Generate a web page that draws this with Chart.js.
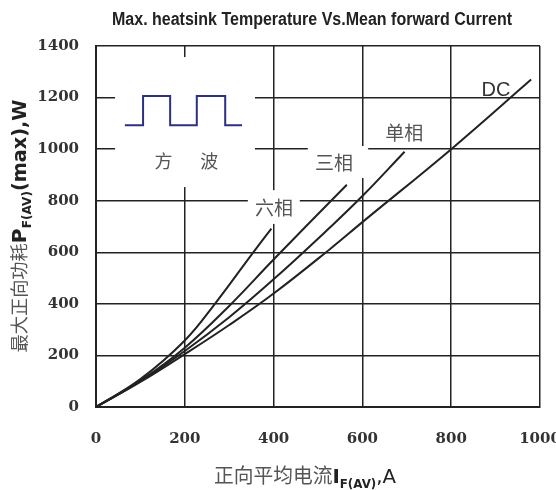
<!DOCTYPE html>
<html>
<head>
<meta charset="utf-8">
<script src="https://cdn.jsdelivr.net/npm/chart.js@4.4.0/dist/chart.umd.min.js"></script>
<style>
  html, body { margin: 0; padding: 0; background: #fff; }
</style>
</head>
<body>
<canvas id="chart" width="556" height="490"></canvas>
<script>
// values (current A, power W)
const xTicks = [0, 200, 400, 600, 800, 1000];
const yTicks = [0, 200, 400, 600, 800, 1000, 1200, 1400];

const sixPhaseI = [0, 100, 200, 270, 350, 395];
const sixPhaseP = [0, 108, 258, 405, 590, 692];

const threePhaseI = [0, 100, 200, 300, 400, 565];
const threePhaseP = [0, 102, 230, 392, 572, 862];

const singlePhaseI = [0, 100, 200, 300, 400, 528, 600, 695];
const singlePhaseP = [0, 100, 217, 348, 495, 698, 818, 990];

const dcI = [0, 100, 200, 300, 400, 528, 600, 800, 980];
const dcP = [0, 97, 205, 318, 440, 614, 717, 1000, 1270];

const seriesNames = ["六相", "三相", "单相", "DC"];

function toPoints(xs, ys) {
    return xs.map((x, i) => ({ x: x, y: ys[i] }));
}

const ink = "#222";

function curve(label, xs, ys) {
    return {
        label: label,
        data: toPoints(xs, ys),
        borderColor: ink,
        borderWidth: 2,
        pointRadius: 0,
        tension: 0.4,
        fill: false
    };
}

// draw a row of text pieces, stretched to a given length
function drawRun(ctx, parts, cx, cy, len, angle) {
    ctx.save();
    let total = 0;
    parts.forEach(p => {
        ctx.font = p.font;
        p.w = ctx.measureText(p.text).width;
        total += p.w;
    });
    ctx.translate(cx, cy);
    ctx.rotate(angle);
    ctx.scale(len / total, 1);
    ctx.textBaseline = "alphabetic";
    ctx.textAlign = "left";
    let x = -total / 2;
    parts.forEach(p => {
        ctx.font = p.font;
        ctx.fillStyle = p.color;
        ctx.fillText(p.text, x, p.dy);
        x += p.w;
    });
    ctx.restore();
}

const cjk = '"Noto Sans CJK SC"';

const decor = {
    id: "decor",
    beforeDatasetsDraw(chart) {
        const ctx = chart.ctx;
        const sx = chart.scales.x, sy = chart.scales.y;
        // white patches behind the labels, they cut the grid
        const boxes = [[43, 358, 853, 1357], [342, 459, 710, 841], [477, 613, 888, 1012]];
        ctx.save();
        ctx.fillStyle = "#fff";
        boxes.forEach(b => {
            const l = sx.getPixelForValue(b[0]), r = sx.getPixelForValue(b[1]);
            const t = sy.getPixelForValue(b[3]), btm = sy.getPixelForValue(b[2]);
            ctx.fillRect(l, t, r - l, btm - t);
        });
        ctx.restore();
    },
    afterDatasetsDraw(chart) {
        const ctx = chart.ctx;
        const sx = chart.scales.x, sy = chart.scales.y;
        const px = v => sx.getPixelForValue(v);
        const py = v => sy.getPixelForValue(v);

        // square wave icon
        const waveX = [65, 106, 106, 167, 167, 227, 227, 291, 291, 329];
        const waveY = [1093, 1093, 1206, 1206, 1093, 1093, 1206, 1206, 1093, 1093];
        ctx.save();
        ctx.strokeStyle = "#2b3080";
        ctx.lineWidth = 2;
        ctx.beginPath();
        waveX.forEach((v, i) => {
            if (i === 0) ctx.moveTo(px(v), py(waveY[i]));
            else ctx.lineTo(px(v), py(waveY[i]));
        });
        ctx.stroke();

        ctx.textAlign = "center";
        ctx.textBaseline = "middle";
        ctx.fillStyle = "#555";
        ctx.font = "18px " + cjk;
        ctx.fillText("方", px(152), py(952));
        ctx.fillText("波", px(255), py(952));

        ctx.font = "19px " + cjk;
        ctx.fillText(seriesNames[0], px(401), py(772));
        ctx.fillText(seriesNames[1], px(536), py(946));
        ctx.fillText(seriesNames[2], px(694), py(1062));
        ctx.fillStyle = "#333";
        ctx.font = '20px "Liberation Sans"';
        ctx.fillText(seriesNames[3], px(901), py(1229));
        ctx.restore();

        // title
        drawRun(ctx, [{ text: "Max. heatsink Temperature Vs.Mean forward Current", font: 'bold 18px "Liberation Sans"', color: ink, dy: 0 }],
            312, 25, 400, 0);

        // axis titles
        drawRun(ctx, [
            { text: "正向平均电流", font: "20px " + cjk, color: "#555", dy: 6 },
            { text: "I", font: 'bold 20px "DejaVu Sans"', color: ink, dy: 6 },
            { text: "F(AV)", font: 'bold 12px "DejaVu Sans"', color: ink, dy: 11 },
            { text: ",A", font: '20px "DejaVu Sans"', color: ink, dy: 6 }
        ], 305, 477, 182, 0);

        drawRun(ctx, [
            { text: "最大正向功耗", font: "18px " + cjk, color: "#555", dy: 7 },
            { text: "P", font: 'bold 20px "DejaVu Sans"', color: ink, dy: 7 },
            { text: "F(AV)", font: 'bold 12px "DejaVu Sans"', color: ink, dy: 12 },
            { text: "(max),W", font: 'bold 19px "DejaVu Sans"', color: ink, dy: 7 }
        ], 19, 226, 253, -Math.PI / 2);
    }
};

const tickFont = { family: "DejaVu Serif", size: 15, weight: "bold" };

new Chart(document.getElementById("chart"), {
    type: "line",
    data: {
        datasets: [
            curve(seriesNames[0], sixPhaseI, sixPhaseP),
            curve(seriesNames[1], threePhaseI, threePhaseP),
            curve(seriesNames[2], singlePhaseI, singlePhaseP),
            curve(seriesNames[3], dcI, dcP)
        ]
    },
    options: {
        responsive: false,
        animation: false,
        devicePixelRatio: 1,
        layout: { padding: { top: 46, right: 16, left: 0, bottom: 0 } },
        plugins: {
            legend: { display: false },
            tooltip: { enabled: false },
            title: { display: false }
        },
        scales: {
            x: {
                type: "linear",
                min: xTicks[0],
                max: xTicks[xTicks.length - 1],
                afterBuildTicks: s => { s.ticks = xTicks.map(v => ({ value: v })); },
                afterFit: s => { s.height = 83; s.paddingLeft = 0; s.paddingRight = 0; },
                ticks: { color: "#333", padding: 23, font: tickFont, callback: v => String(v) },
                grid: { color: ink, lineWidth: 1.5, drawTicks: false },
                border: { color: ink, width: 2 }
            },
            y: {
                type: "linear",
                min: yTicks[0],
                max: yTicks[yTicks.length - 1],
                afterBuildTicks: s => { s.ticks = yTicks.map(v => ({ value: v })); },
                afterFit: s => { s.width = 96; },
                ticks: { color: "#333", padding: 17, font: tickFont, callback: v => String(v) },
                grid: { color: ink, lineWidth: 1.5, drawTicks: false },
                border: { color: ink, width: 2 }
            }
        }
    },
    plugins: [decor]
});
</script>
</body>
</html>
